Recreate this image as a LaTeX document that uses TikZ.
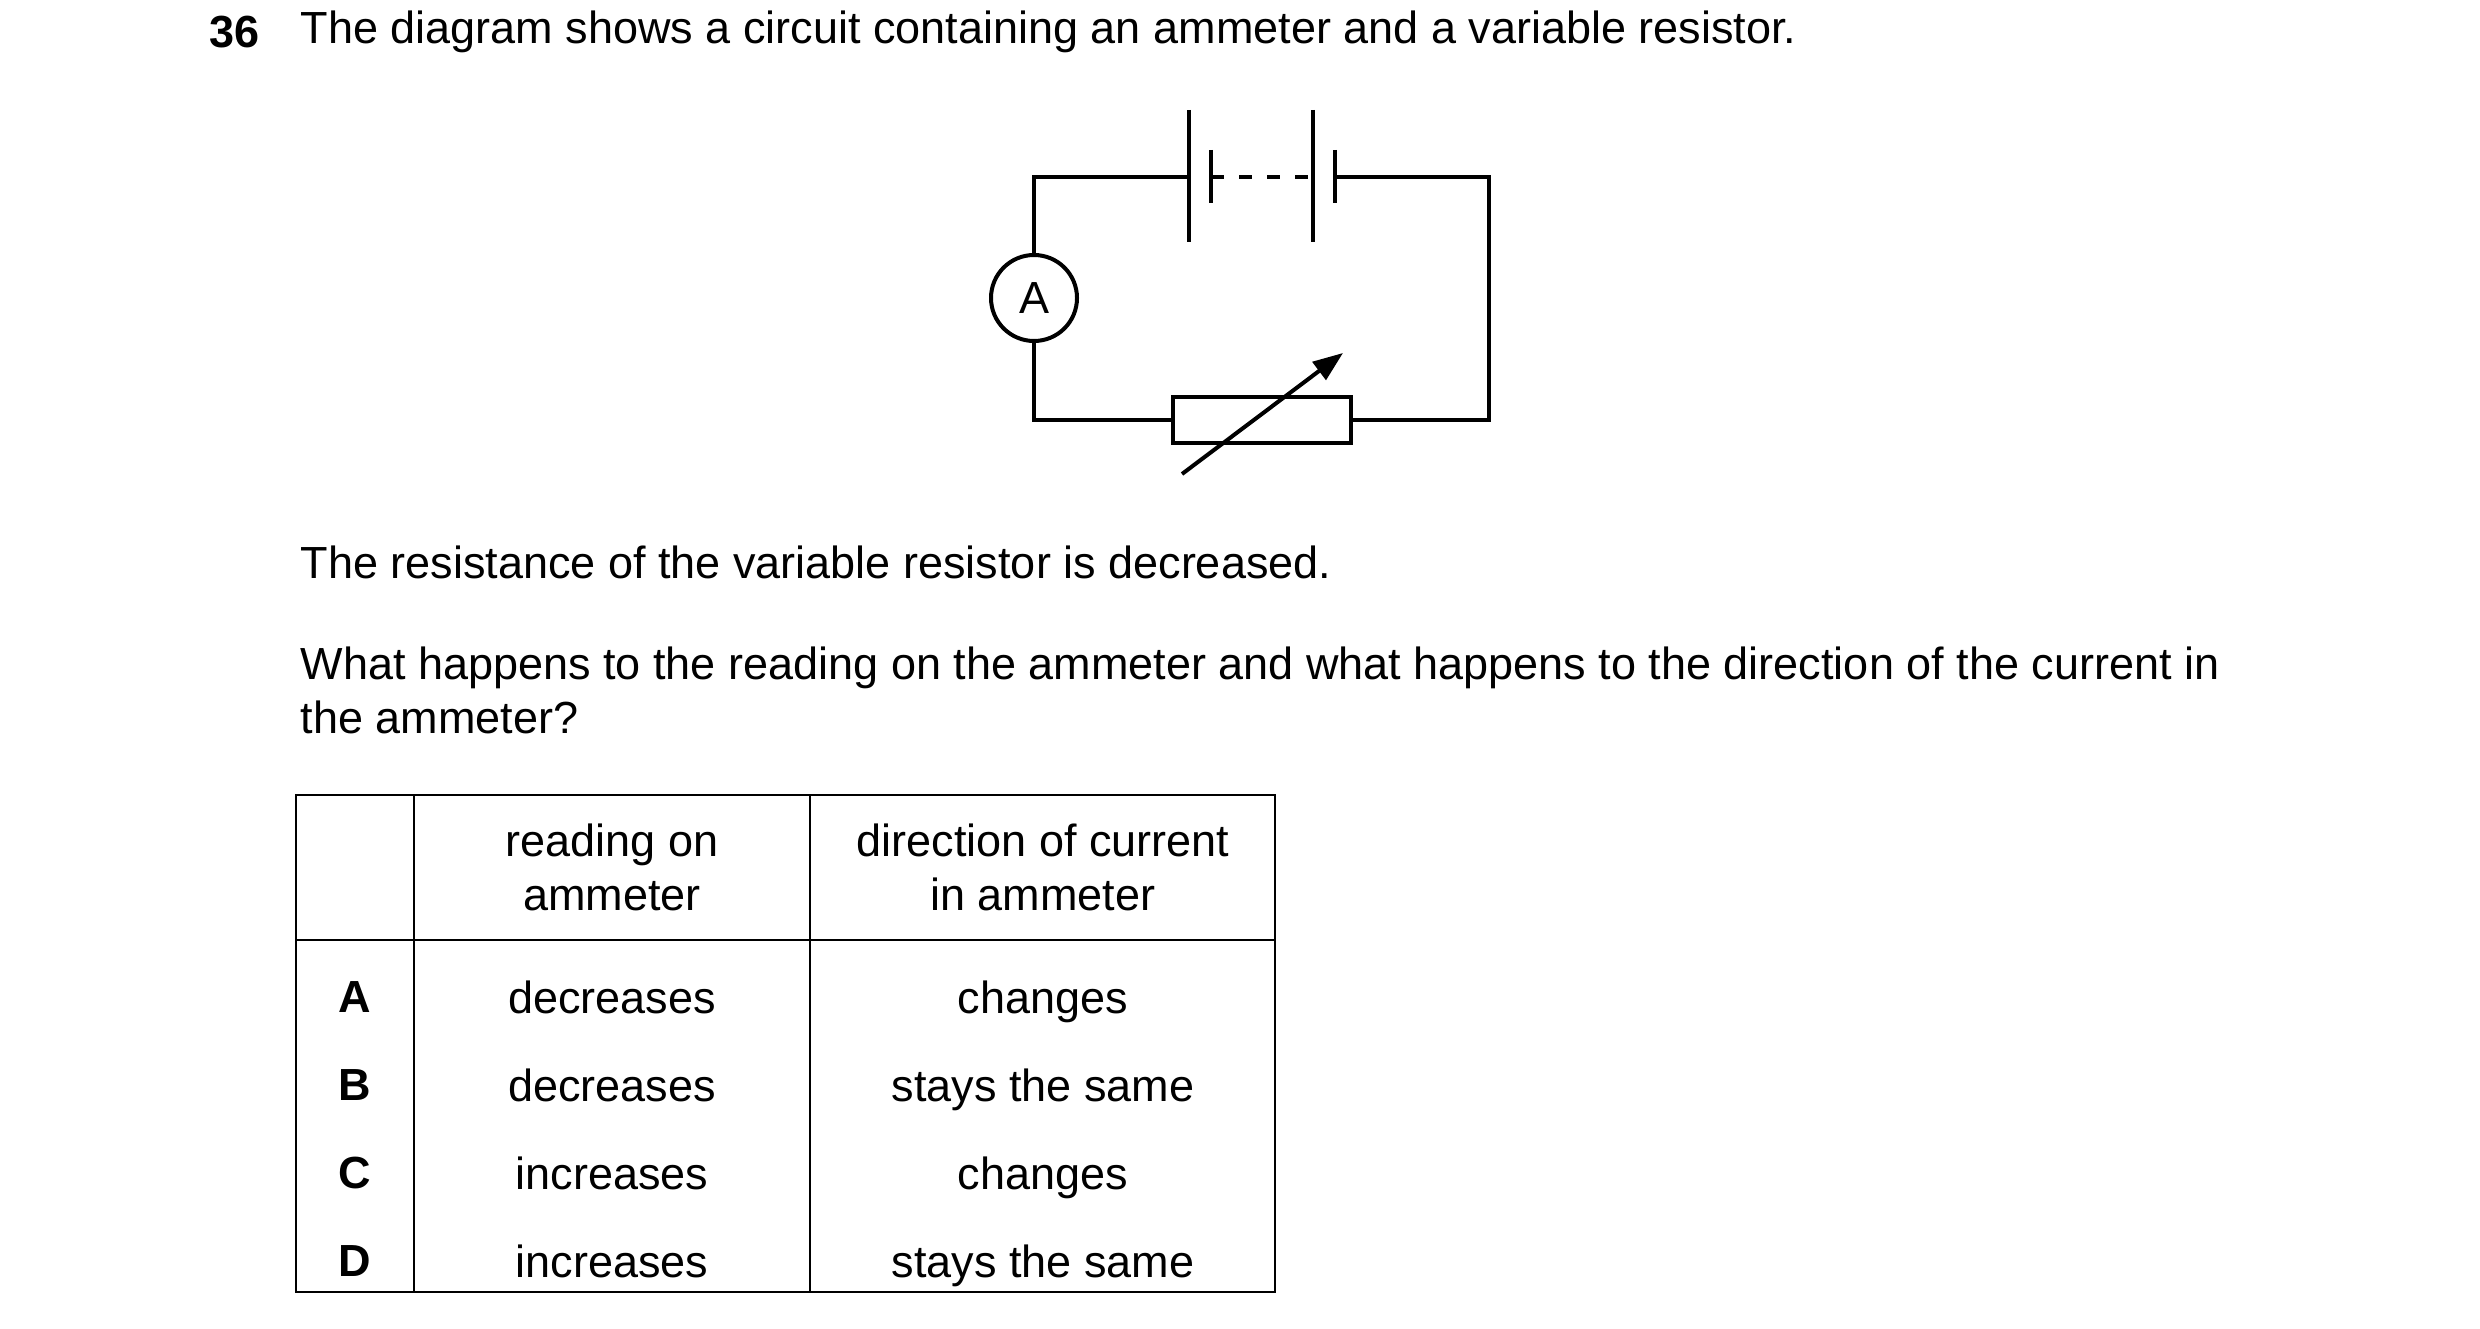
\documentclass[tikz,border=0pt]{standalone}
\usepackage{fontspec}
\setmainfont{Liberation Sans}
\usetikzlibrary{arrows.meta}

\begin{document}
\begin{tikzpicture}[x=1pt,y=-1pt,line width=3.5pt,
	txt/.style={anchor=west,inner sep=0pt,font=\fontsize{45}{54}\selectfont},
	cell/.style={inner sep=0pt,font=\fontsize{45}{54}\selectfont,align=center},
	wire/.style={line width=4pt},
	grid/.style={line width=2.5pt}]
	\useasboundingbox (0,0) rectangle (2480,1329);
	% question text
	\node[txt,font=\fontsize{45}{54}\selectfont\bfseries] (num) at (208,32) {36};
	\node[txt] (q1) at (299,32) {The diagram shows a circuit containing an ammeter and a variable resistor.};
	\node[txt] (q2) at (299,562) {The resistance of the variable resistor is decreased.};
	\node[txt,align=left,anchor=north west] (q3) at (299,645) {What happens to the reading on the ammeter and what happens to the direction of the current in\\the ammeter?};
	% circuit
	\coordinate (tl) at (1034,177);
	\coordinate (tr) at (1489,177);
	\coordinate (bl) at (1034,420);
	\coordinate (br) at (1489,420);
	\node[draw,circle,wire,minimum size=86pt,inner sep=0pt,font=\fontsize{45}{54}\selectfont] (amm) at (1034,298) {A};
	\node[draw,rectangle,wire,minimum width=178pt,minimum height=46pt,inner sep=0pt] (res) at (1262,420) {};
	\coordinate (c1) at (1189,177);
	\coordinate (c2) at (1211,177);
	\coordinate (c3) at (1313,177);
	\coordinate (c4) at (1335,177);
	\draw[wire] (amm.north) -- (tl) -- (c1);
	\draw[wire] (c4) -- (tr) -- (br) -- (res.east);
	\draw[wire] (res.west) -- (bl) -- (amm.south);
	\draw[wire] (1189,110) -- (1189,242);
	\draw[wire] (1211,150) -- (1211,203);
	\draw[wire] (1313,110) -- (1313,242);
	\draw[wire] (1335,150) -- (1335,203);
	\draw[wire,dash pattern=on 13pt off 15pt] (c2) -- (c3);
	\coordinate (va) at (1182,474);
	\coordinate (vb) at (1343,353);
	\draw[wire,-{Triangle[length=30pt,width=22pt]}] (va) -- (vb);
	% table
	\draw[grid] (296,795) rectangle (1275,1292);
	\draw[grid] (414,795) -- (414,1292);
	\draw[grid] (810,795) -- (810,1292);
	\draw[grid] (296,940) -- (1275,940);
	\node[cell] (h1) at (612,867) {reading on\\ammeter};
	\node[cell] (h2) at (1043,867) {direction of current\\in ammeter};
	\foreach \y/\l/\r/\d in {997/A/decreases/changes,1085/B/decreases/stays the same,1173/C/increases/changes,1261/D/increases/stays the same}{
		\node[cell,font=\fontsize{45}{54}\selectfont\bfseries] (k\l) at (355,\y) {\l};
		\node[cell,anchor=base] (r\l) at (612,\y+16) {\r};
		\node[cell,anchor=base] (d\l) at (1043,\y+16) {\d};
	}
\end{tikzpicture}
\end{document}
